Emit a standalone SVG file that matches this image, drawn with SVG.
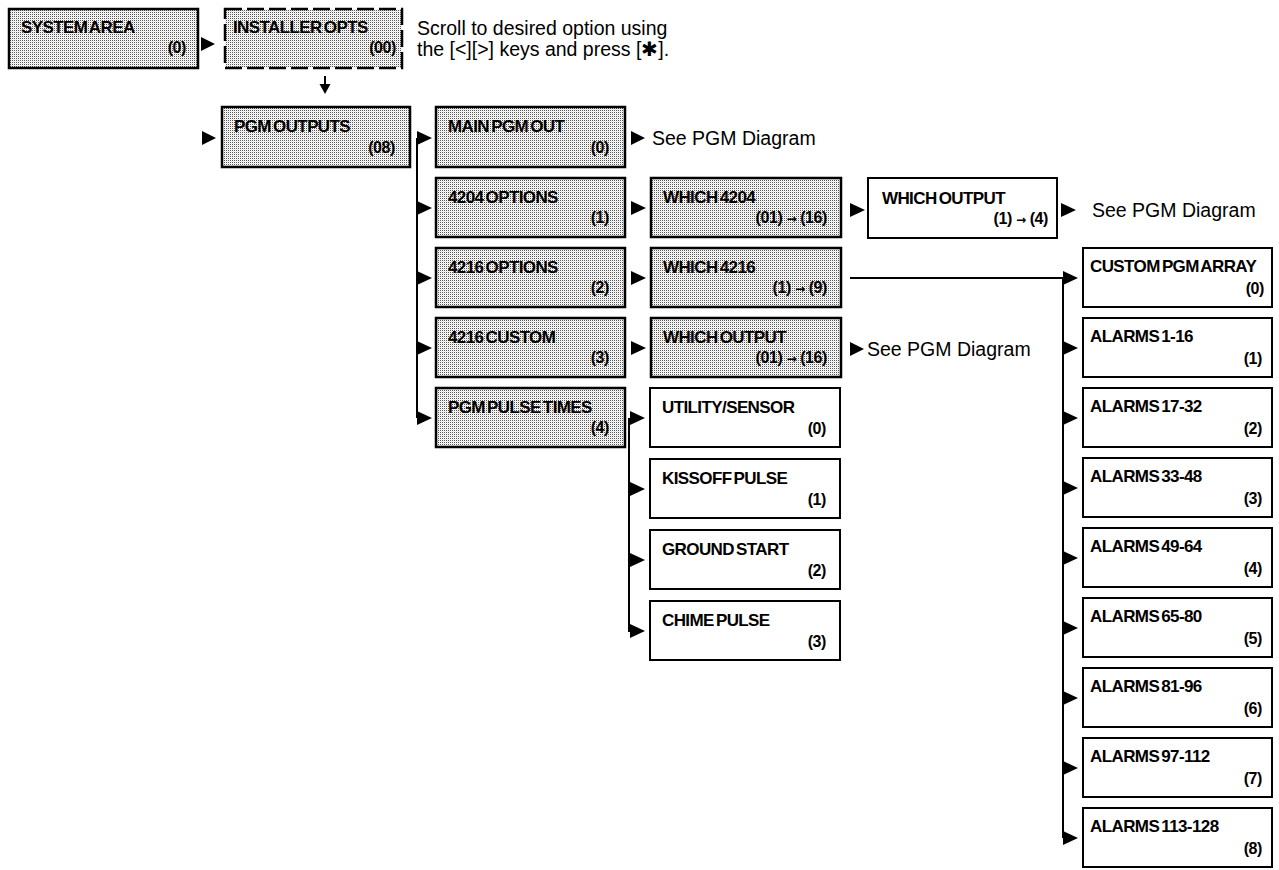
<svg xmlns="http://www.w3.org/2000/svg" width="1279" height="870" viewBox="0 0 1279 870">
<defs>
<pattern id="stip" width="2" height="2" patternUnits="userSpaceOnUse">
<rect width="2" height="2" fill="#fff"/>
<rect x="0" y="0" width="1" height="1" fill="#555"/>
<rect x="1" y="1" width="1" height="1" fill="#e6e6e6"/>
</pattern>
</defs>
<style>
.g{fill:url(#stip);stroke:#000;stroke-width:2.5}
.w{fill:#fff;stroke:#000;stroke-width:2}
.d{fill:url(#stip);stroke:#000;stroke-width:2.5;stroke-dasharray:17 5}
.t{font-family:"Liberation Sans",Arial,sans-serif;font-weight:bold;font-size:17px;letter-spacing:-0.6px;word-spacing:-2px;fill:#000}
.n{font-family:"Liberation Sans",Arial,sans-serif;font-weight:bold;font-size:16px;letter-spacing:-0.4px;fill:#000;text-anchor:end}
.s{font-family:"DejaVu Sans",sans-serif;font-size:12px;font-weight:bold}
.p{font-family:"Liberation Sans",Arial,sans-serif;font-size:19.5px;fill:#000}
.ln{stroke:#000;stroke-width:2;fill:none}
.tri{fill:#000}
</style>

<g id="connectors">
<polygon class="tri" points="201,37 201,51 215,44"/>
<line class="ln" x1="325" y1="76" x2="325" y2="86"/>
<polygon class="tri" points="319.5,84 330.5,84 325,94"/>
<polygon class="tri" points="202,131 202,145 216,138"/>
<line class="ln" x1="417" y1="138" x2="417" y2="418"/>
<polygon class="tri" points="417,131 417,145 432,138"/>
<polygon class="tri" points="417,201 417,215 432,208"/>
<polygon class="tri" points="417,271 417,285 432,278"/>
<polygon class="tri" points="417,341 417,355 432,348"/>
<polygon class="tri" points="417,411 417,425 432,418"/>
<polygon class="tri" points="631,201 631,215 646,208"/>
<polygon class="tri" points="631,271 631,285 646,278"/>
<polygon class="tri" points="631,341 631,355 646,348"/>
<line class="ln" x1="629" y1="418" x2="629" y2="632"/>
<polygon class="tri" points="630,411 630,425 645,418"/>
<polygon class="tri" points="630,482 630,496 645,489"/>
<polygon class="tri" points="630,553 630,567 645,560"/>
<polygon class="tri" points="630,624 630,638 645,631"/>
<polygon class="tri" points="850,203 850,217 865,210"/>
<line class="ln" x1="850" y1="278" x2="1063" y2="278"/>
<line class="ln" x1="1063" y1="278" x2="1063" y2="838"/>
<polygon class="tri" points="1063,271 1063,285 1078,278"/>
<polygon class="tri" points="1063,341 1063,355 1078,348"/>
<polygon class="tri" points="1063,411 1063,425 1078,418"/>
<polygon class="tri" points="1063,481 1063,495 1078,488"/>
<polygon class="tri" points="1063,551 1063,565 1078,558"/>
<polygon class="tri" points="1063,621 1063,635 1078,628"/>
<polygon class="tri" points="1063,691 1063,705 1078,698"/>
<polygon class="tri" points="1063,761 1063,775 1078,768"/>
<polygon class="tri" points="1063,831 1063,845 1078,838"/>
<polygon class="tri" points="631,131 631,145 645,138"/>
<polygon class="tri" points="850,342 850,356 864,349"/>
<polygon class="tri" points="1061,203 1061,217 1076,210"/>
</g>

<g id="notes">
<text class="p" x="417" y="35">Scroll to desired option using</text>
<text class="p" x="417" y="56">the [&lt;][&gt;] keys and press [✱].</text>
<text class="p" x="652" y="145">See PGM Diagram</text>
<text class="p" x="867" y="356">See PGM Diagram</text>
<text class="p" x="1092" y="217">See PGM Diagram</text>
</g>

<g id="n-system-area"><rect class="g" x="9" y="9" width="189" height="59"/><text class="t" x="21" y="33">SYSTEM AREA</text><text class="n" x="186" y="53">(0)</text></g>
<g id="n-installer-opts"><rect class="d" x="225" y="9" width="177" height="59"/><text class="t" x="233" y="33">INSTALLER OPTS</text><text class="n" x="396" y="53">(00)</text></g>
<g id="n-pgm-outputs"><rect class="g" x="222" y="107" width="188" height="60"/><text class="t" x="234" y="132">PGM OUTPUTS</text><text class="n" x="395" y="153">(08)</text></g>

<g id="n-main-pgm-out"><rect class="g" x="436" y="107" width="189" height="60"/><text class="t" x="448" y="132">MAIN PGM OUT</text><text class="n" x="609" y="153">(0)</text></g>
<g id="n-4204-options"><rect class="g" x="436" y="178" width="189" height="59"/><text class="t" x="448" y="203">4204 OPTIONS</text><text class="n" x="609" y="223">(1)</text></g>
<g id="n-4216-options"><rect class="g" x="436" y="248" width="189" height="59"/><text class="t" x="448" y="273">4216 OPTIONS</text><text class="n" x="609" y="293">(2)</text></g>
<g id="n-4216-custom"><rect class="g" x="436" y="318" width="189" height="59"/><text class="t" x="448" y="343">4216 CUSTOM</text><text class="n" x="609" y="363">(3)</text></g>
<g id="n-pgm-pulse-times"><rect class="g" x="436" y="388" width="189" height="59"/><text class="t" x="448" y="413">PGM PULSE TIMES</text><text class="n" x="609" y="433">(4)</text></g>

<g id="n-which-4204"><rect class="g" x="651" y="178" width="190" height="59"/><text class="t" x="663" y="203">WHICH 4204</text><text class="n" x="827" y="223">(01) <tspan class="s">→</tspan> (16)</text></g>
<g id="n-which-4216"><rect class="g" x="651" y="248" width="190" height="59"/><text class="t" x="663" y="273">WHICH 4216</text><text class="n" x="827" y="293">(1) <tspan class="s">→</tspan> (9)</text></g>
<g id="n-which-output-16"><rect class="g" x="651" y="318" width="190" height="59"/><text class="t" x="663" y="343">WHICH OUTPUT</text><text class="n" x="827" y="363">(01) <tspan class="s">→</tspan> (16)</text></g>

<g id="n-which-output-4"><rect class="w" x="868" y="178" width="189" height="60"/><text class="t" x="882" y="204">WHICH OUTPUT</text><text class="n" x="1048" y="224">(1) <tspan class="s">→</tspan> (4)</text></g>

<g id="n-utility-sensor"><rect class="w" x="650" y="388" width="190" height="59"/><text class="t" x="662" y="413">UTILITY/SENSOR</text><text class="n" x="826" y="434">(0)</text></g>
<g id="n-kissoff-pulse"><rect class="w" x="650" y="459" width="190" height="59"/><text class="t" x="662" y="484">KISSOFF PULSE</text><text class="n" x="826" y="505">(1)</text></g>
<g id="n-ground-start"><rect class="w" x="650" y="530" width="190" height="59"/><text class="t" x="662" y="555">GROUND START</text><text class="n" x="826" y="576">(2)</text></g>
<g id="n-chime-pulse"><rect class="w" x="650" y="601" width="190" height="59"/><text class="t" x="662" y="626">CHIME PULSE</text><text class="n" x="826" y="647">(3)</text></g>

<g id="n-custom-pgm-array"><rect class="w" x="1083" y="248" width="189" height="59"/><text class="t" x="1090" y="272">CUSTOM PGM ARRAY</text><text class="n" x="1264" y="294">(0)</text></g>
<g id="n-alarms-1-16"><rect class="w" x="1083" y="318" width="189" height="59"/><text class="t" x="1090" y="342">ALARMS 1-16</text><text class="n" x="1262" y="364">(1)</text></g>
<g id="n-alarms-17-32"><rect class="w" x="1083" y="388" width="189" height="59"/><text class="t" x="1090" y="412">ALARMS 17-32</text><text class="n" x="1262" y="434">(2)</text></g>
<g id="n-alarms-33-48"><rect class="w" x="1083" y="458" width="189" height="59"/><text class="t" x="1090" y="482">ALARMS 33-48</text><text class="n" x="1262" y="504">(3)</text></g>
<g id="n-alarms-49-64"><rect class="w" x="1083" y="528" width="189" height="59"/><text class="t" x="1090" y="552">ALARMS 49-64</text><text class="n" x="1262" y="574">(4)</text></g>
<g id="n-alarms-65-80"><rect class="w" x="1083" y="598" width="189" height="59"/><text class="t" x="1090" y="622">ALARMS 65-80</text><text class="n" x="1262" y="644">(5)</text></g>
<g id="n-alarms-81-96"><rect class="w" x="1083" y="668" width="189" height="59"/><text class="t" x="1090" y="692">ALARMS 81-96</text><text class="n" x="1262" y="714">(6)</text></g>
<g id="n-alarms-97-112"><rect class="w" x="1083" y="738" width="189" height="59"/><text class="t" x="1090" y="762">ALARMS 97-112</text><text class="n" x="1262" y="784">(7)</text></g>
<g id="n-alarms-113-128"><rect class="w" x="1083" y="808" width="189" height="59"/><text class="t" x="1090" y="832">ALARMS 113-128</text><text class="n" x="1262" y="854">(8)</text></g>
</svg>
